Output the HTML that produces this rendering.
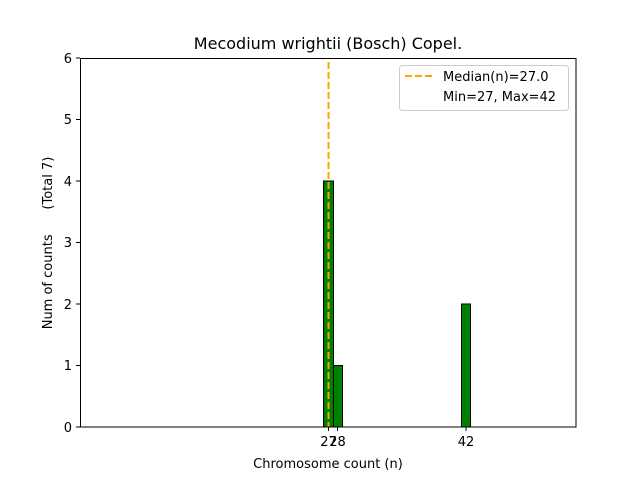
<!DOCTYPE html>
<html><head><style>body{margin:0;background:#fff}svg{display:block}text{font-family:"DejaVu Sans","Liberation Sans",sans-serif;fill:#000;white-space:pre}</style></head>
<body>
<svg width="640" height="480" viewBox="0 0 640 480" xml:space="preserve">
<rect width="640" height="480" fill="#fff"/>
<line x1="323" y1="427" x2="498" y2="427" stroke="#000" stroke-width="1"/>
<rect x="323.5" y="181" width="10" height="246" fill="#008000" stroke="#000" stroke-width="1"/>
<rect x="333.5" y="365.5" width="9" height="61.5" fill="#008000" stroke="#000" stroke-width="1"/>
<rect x="461.5" y="304" width="9" height="123" fill="#008000" stroke="#000" stroke-width="1"/>
<line x1="328.5" y1="62" x2="328.5" y2="427" stroke="#FFA500" stroke-width="2" stroke-dasharray="7,3"/>
<rect x="80.5" y="58.5" width="495.5" height="368.5" fill="none" stroke="#000" stroke-width="1"/>
<g stroke="#000">
<line x1="76" y1="427" x2="80" y2="427"/><line x1="76" y1="365.5" x2="80" y2="365.5"/><line x1="76" y1="304" x2="80" y2="304"/><line x1="76" y1="242.5" x2="80" y2="242.5"/><line x1="76" y1="181" x2="80" y2="181"/><line x1="76" y1="119.5" x2="80" y2="119.5"/><line x1="76" y1="58" x2="80" y2="58"/>
<line x1="328.5" y1="427" x2="328.5" y2="431"/><line x1="337.5" y1="427" x2="337.5" y2="431"/><line x1="466" y1="427" x2="466" y2="431"/>
</g>
<g font-size="13" text-anchor="end">
<text x="72" y="432">0</text><text x="72" y="370">1</text><text x="72" y="309">2</text><text x="72" y="247">3</text><text x="72" y="186">4</text><text x="72" y="124">5</text><text x="72" y="63">6</text>
</g>
<g font-size="13" text-anchor="middle">
<text x="328.5" y="446">27</text><text x="337.5" y="446">28</text><text x="466" y="446">42</text>
<text x="328" y="468">Chromosome count (n)</text>
<text x="328" y="49" font-size="16">Mecodium wrightii (Bosch) Copel.</text>
<text transform="translate(52,243) rotate(-90)">Num of counts      (Total 7)</text>
</g>
<rect x="399.5" y="65.5" width="169" height="45" rx="3" fill="#fff" stroke="#ccc"/>
<line x1="405" y1="76" x2="432" y2="76" stroke="#FFA500" stroke-width="2" stroke-dasharray="7,3"/>
<text x="443" y="81" font-size="13">Median(n)=27.0</text>
<text x="443" y="101" font-size="13">Min=27, Max=42</text>
</svg>
</body></html>
